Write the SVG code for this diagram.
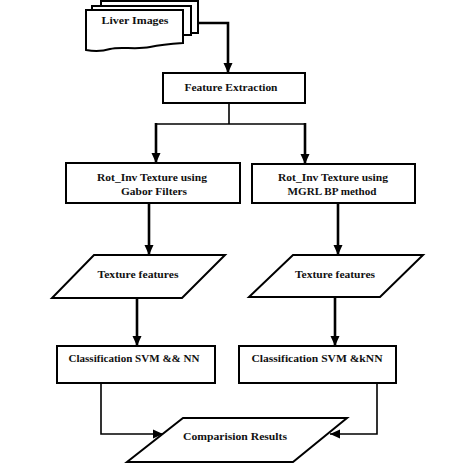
<svg xmlns="http://www.w3.org/2000/svg" width="474" height="474" viewBox="0 0 474 474">
<defs>
<marker id="ah" markerUnits="userSpaceOnUse" markerWidth="10" markerHeight="10" viewBox="0 0 10 10" refX="10" refY="5" orient="auto">
<path d="M0,0.5 L10,5 L0,9.5 Z" fill="#000"/>
</marker>
<style>
.s{fill:#fff;stroke:#000;stroke-width:2}
.t{font-family:"Liberation Serif","DejaVu Serif","Times New Roman",serif;font-weight:bold;font-size:10px;fill:#111;text-anchor:middle}
.c{fill:none;stroke:#000;stroke-width:1.6}
.ct{fill:none;stroke:#000;stroke-width:2.6}
</style>
</defs>
<rect width="474" height="474" fill="#fff"/>
<g id="connectors">
<path class="ct" d="M198,23 H228 V73" marker-end="url(#ah)"/>
<path class="c" d="M229,103 V124"/>
<path class="c" d="M156,124 H305"/>
<path class="ct" d="M156,123 V163" marker-end="url(#ah)"/>
<path class="ct" d="M305,123 V164" marker-end="url(#ah)"/>
<path class="ct" d="M149,203 V255" marker-end="url(#ah)"/>
<path class="ct" d="M338,203 V255" marker-end="url(#ah)"/>
<path class="ct" d="M137,298 V346" marker-end="url(#ah)"/>
<path class="ct" d="M335,297 V346" marker-end="url(#ah)"/>
<path class="c" d="M101,383 V434 H163" stroke-width="2" marker-end="url(#ah)"/>
<path class="c" d="M377,383 V434 H330" stroke-width="2" marker-end="url(#ah)"/>
</g>
<g id="liver-images">
<path class="s" d="M101,1 H198 V33 H101 Z"/>
<path class="s" d="M92,6 H191 V35 H92 Z"/>
<path class="s" d="M86,10 H183 V43 C170,44 160,45 150,47 C135,50 120,46 110,49 C100,52 92,51 86,50 Z"/>
<text class="t" x="135" y="24" textLength="67" lengthAdjust="spacingAndGlyphs">Liver Images</text>
</g>
<g id="feature-extraction">
<rect class="s" x="163" y="73" width="142" height="30"/>
<text class="t" x="231" y="91" textLength="93" lengthAdjust="spacingAndGlyphs">Feature Extraction</text>
</g>
<g id="gabor">
<rect class="s" x="66" y="163" width="174" height="40"/>
<text class="t" x="152" y="181" textLength="110" lengthAdjust="spacingAndGlyphs">Rot_Inv Texture using</text>
<text class="t" x="154" y="195" textLength="66" lengthAdjust="spacingAndGlyphs">Gabor Filters</text>
</g>
<g id="mgrlbp">
<rect class="s" x="252" y="164" width="163" height="39"/>
<text class="t" x="333" y="181" textLength="110" lengthAdjust="spacingAndGlyphs">Rot_Inv Texture using</text>
<text class="t" x="332" y="195" textLength="89" lengthAdjust="spacingAndGlyphs">MGRL BP method</text>
</g>
<g id="texture-left">
<path class="s" d="M94,255 H225 L182,298 H52 Z"/>
<text class="t" x="138" y="278" textLength="81" lengthAdjust="spacingAndGlyphs">Texture features</text>
</g>
<g id="texture-right">
<path class="s" d="M293,255 H423 L380,297 H249 Z"/>
<text class="t" x="335" y="278" textLength="80" lengthAdjust="spacingAndGlyphs">Texture features</text>
</g>
<g id="classification-left">
<rect class="s" x="57" y="346" width="158" height="37"/>
<text class="t" x="134" y="362" textLength="131" lengthAdjust="spacingAndGlyphs">Classification SVM &amp;&amp; NN</text>
</g>
<g id="classification-right">
<rect class="s" x="239" y="346" width="157" height="37"/>
<text class="t" x="317" y="362" textLength="131" lengthAdjust="spacingAndGlyphs">Classification SVM &amp;kNN</text>
</g>
<g id="comparison">
<path class="s" d="M183,418 H347 L293,462 H127 Z"/>
<text class="t" x="235" y="440" textLength="104" lengthAdjust="spacingAndGlyphs">Comparision Results</text>
</g>
</svg>
